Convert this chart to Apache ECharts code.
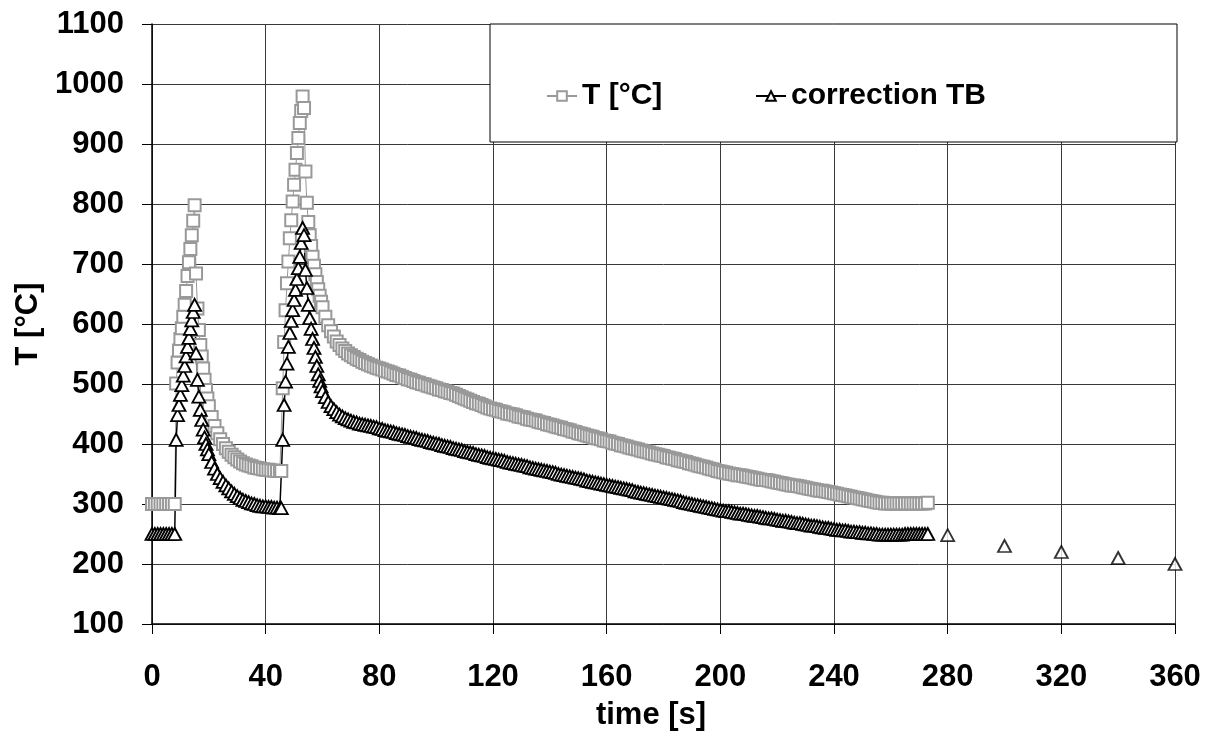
<!DOCTYPE html>
<html style="height: 100%">
<head>
  <meta charset="UTF-8">
  <title>T / correction TB</title>
  <script src="https://cdnjs.cloudflare.com/ajax/libs/echarts/6.0.0/echarts.min.js"></script>
  <style>
    body {
      margin: 0;
      height: 100%;
      background: #fff;
    }
    #main {
      width: 1217px;
      height: 740px;
    }
  </style>
</head>
<body>
  <div id="main"></div>

  <script>
    // time [s] of the measured points
    const time = [
      0, 1, 2, 3, 4, 5, 6, 7, 8,
      8.5, 9, 9.5, 10, 10.5, 11, 11.5, 12, 12.5, 13, 13.5, 14, 14.5, 15,
      15.5, 16, 16.5, 17, 17.5, 18, 18.5, 19, 19.5, 20,
      21, 22, 23, 24, 25, 26, 27, 28, 29, 30,
      31, 32, 33, 34, 35, 36, 37, 38, 39, 40,
      41, 42, 43, 44, 45, 45.5,
      46, 46.5, 47, 47.5, 48, 48.5, 49, 49.5, 50, 50.5, 51, 51.5, 52, 52.5, 53,
      53.5, 54, 54.5, 55, 55.5, 56, 56.5, 57, 57.5, 58, 58.5, 59, 59.5, 60,
      61, 62, 63, 64, 65, 66, 67, 68, 69, 70,
      71, 72, 73, 74, 75, 76, 77, 78, 79, 80,
      81, 82, 83, 84, 85, 86, 87, 88, 89, 90,
      91, 92, 93, 94, 95, 96, 97, 98, 99, 100,
      101, 102, 103, 104, 105, 106, 107, 108, 109, 110,
      111, 112, 113, 114, 115, 116, 117, 118, 119, 120,
      121, 122, 123, 124, 125, 126, 127, 128, 129, 130,
      131, 132, 133, 134, 135, 136, 137, 138, 139, 140,
      141, 142, 143, 144, 145, 146, 147, 148, 149, 150,
      151, 152, 153, 154, 155, 156, 157, 158, 159, 160,
      161, 162, 163, 164, 165, 166, 167, 168, 169, 170,
      171, 172, 173, 174, 175, 176, 177, 178, 179, 180,
      181, 182, 183, 184, 185, 186, 187, 188, 189, 190,
      191, 192, 193, 194, 195, 196, 197, 198, 199, 200,
      201, 202, 203, 204, 205, 206, 207, 208, 209, 210,
      211, 212, 213, 214, 215, 216, 217, 218, 219, 220,
      221, 222, 223, 224, 225, 226, 227, 228, 229, 230,
      231, 232, 233, 234, 235, 236, 237, 238, 239, 240,
      241, 242, 243, 244, 245, 246, 247, 248, 249, 250,
      251, 252, 253, 254, 255, 256, 257, 258, 259, 260,
      261, 262, 263, 264, 265, 266, 267, 268, 269, 270,
      271, 272, 273
    ];

    // T [°C]
    const tempT = [
      300, 300, 300, 300, 300, 300, 300, 300, 300,
      501, 536, 556, 575, 593, 612, 632, 655, 680, 703, 725, 748, 772, 798,
      684, 626, 590, 565, 546, 526, 507, 490, 476, 463,
      445, 430, 418, 408, 400, 393, 387, 382, 378, 374,
      371, 368, 366, 364, 363, 361, 360, 359, 358, 357,
      357, 356, 356, 355, 355, 355,
      493, 570, 623, 668, 704, 743, 773, 804, 832, 857, 885, 910, 935, 955, 979,
      960, 854, 802, 770, 748, 730, 712, 697, 683, 670, 658, 647, 637, 628,
      612, 598, 588, 579, 571, 565, 559, 555, 551, 548,
      545, 542, 540, 537, 535, 533, 531, 529, 527, 526,
      524, 522, 521, 519, 517, 515, 514, 512, 510, 508,
      507, 505, 503, 502, 500, 499, 497, 496, 494, 493,
      491, 490, 488, 487, 485, 484, 482, 480, 478, 476,
      474, 472, 470, 468, 467, 465, 463, 461, 459, 458,
      457, 455, 454, 453, 451, 450, 449, 448, 446, 445,
      444, 442, 441, 440, 439, 437, 436, 435, 433, 432,
      431, 429, 428, 427, 425, 424, 423, 421, 420, 418,
      417, 416, 414, 413, 412, 410, 409, 408, 406, 405,
      404, 402, 401, 400, 398, 397, 396, 394, 393, 392,
      391, 389, 388, 387, 386, 384, 383, 382, 381, 380,
      378, 377, 376, 375, 373, 372, 371, 370, 368, 367,
      366, 364, 363, 362, 361, 359, 358, 357, 355, 354,
      353, 352, 351, 350, 349, 348, 348, 347, 346, 345,
      344, 343, 342, 341, 340, 340, 339, 338, 337, 336,
      335, 334, 333, 332, 331, 331, 330, 329, 328, 327,
      326, 325, 324, 323, 322, 322, 321, 320, 319, 318,
      317, 316, 315, 314, 313, 312, 311, 310, 309, 308,
      307, 306, 305, 304, 303, 302, 302, 301, 301, 301,
      301, 301, 301, 301, 301, 301, 301, 301, 301, 301,
      301, 301, 302
    ];

    // correction TB
    const tempTB = [
      250, 250, 250, 250, 250, 250, 250, 250, 250,
      407, 448, 465, 482, 498, 514, 530, 546, 562, 577, 592, 606, 620, 632,
      551, 507, 479, 457, 440, 424, 411, 400, 391, 383,
      370, 359, 350, 343, 337, 331, 326, 321, 317, 313,
      310, 307, 305, 303, 301, 300, 298, 297, 296, 296,
      295, 295, 294, 294, 293, 293,
      407, 465, 504, 534, 562, 585, 605, 623, 640, 657, 675, 693, 712, 735, 760,
      748, 690, 660, 632, 610, 592, 575, 560, 545, 530, 516, 505, 496, 488,
      478, 470, 463, 458, 453, 449, 446, 443, 441, 439,
      437, 436, 434, 433, 432, 431, 430, 429, 428, 426,
      425, 423, 422, 421, 420, 418, 417, 416, 415, 413,
      412, 411, 410, 408, 407, 406, 405, 403, 402, 401,
      400, 398, 397, 396, 395, 393, 392, 391, 390, 388,
      387, 386, 385, 383, 382, 381, 380, 378, 377, 376,
      375, 374, 373, 372, 370, 369, 368, 367, 366, 365,
      364, 363, 361, 360, 359, 358, 357, 356, 355, 354,
      353, 352, 350, 349, 348, 347, 346, 345, 344, 343,
      342, 341, 339, 338, 337, 336, 335, 334, 333, 332,
      331, 330, 329, 328, 327, 326, 325, 324, 323, 321,
      320, 319, 318, 317, 316, 315, 314, 313, 312, 311,
      310, 309, 308, 307, 306, 305, 303, 302, 301, 300,
      299, 298, 297, 296, 295, 294, 293, 292, 291, 290,
      289, 288, 288, 287, 286, 285, 284, 284, 283, 282,
      281, 280, 280, 279, 278, 277, 276, 276, 275, 274,
      273, 272, 272, 271, 270, 269, 268, 268, 267, 266,
      265, 264, 264, 263, 262, 261, 260, 260, 259, 258,
      257, 257, 256, 256, 255, 254, 254, 253, 253, 252,
      252, 251, 251, 250, 250, 249, 249, 249, 249, 249,
      249, 249, 249, 249, 250, 250, 250, 250, 250, 250,
      250, 250, 250
    ];

    // later single readings of correction TB (not joined by a line)
    const tailTime = [280, 300, 320, 340, 360];
    const tailTB = [248, 230, 220, 210, 200];

    const fontMain = "'Liberation Sans', Arial, sans-serif";

    const myChart = echarts.init(document.getElementById('main'));

    const option = {
      animation: false,
      backgroundColor: '#fff',
      grid: {
        left: 152,
        right: 42,
        top: 24,
        bottom: 116
      },
      graphic: [{
        type: 'rect',
        z: 5,
        shape: { x: 490, y: 24, width: 687, height: 118 },
        style: { fill: '#fff', stroke: '#000', lineWidth: 1 }
      }],
      legend: [{
        data: ['T [°C]'],
        left: 541,
        top: 76,
        z: 20,
        itemWidth: 30,
        itemHeight: 12,
        itemGap: 0,
        textStyle: { fontFamily: fontMain, fontWeight: 'bold', fontSize: 30, color: '#000' }
      }, {
        data: ['correction TB'],
        left: 750,
        top: 76,
        z: 20,
        itemWidth: 30,
        itemHeight: 12,
        itemGap: 0,
        textStyle: { fontFamily: fontMain, fontWeight: 'bold', fontSize: 30, color: '#000' }
      }],
      xAxis: {
        type: 'value',
        min: 0,
        max: 360,
        interval: 40,
        name: 'time [s]',
        nameLocation: 'middle',
        nameGap: 76,
        nameTextStyle: { fontFamily: fontMain, fontWeight: 'bold', fontSize: 31, color: '#000', padding: [0, 25, 0, 0] },
        axisLine: { lineStyle: { color: '#000', width: 1.5 } },
        axisTick: { show: true, inside: false, length: 10, lineStyle: { color: '#000' } },
        axisLabel: { margin: 38, fontFamily: fontMain, fontWeight: 'bold', fontSize: 31, color: '#000' },
        splitLine: { show: true, lineStyle: { color: '#3a3a3a', width: 1 } }
      },
      yAxis: {
        type: 'value',
        min: 100,
        max: 1100,
        interval: 100,
        name: 'T [°C]',
        nameLocation: 'middle',
        nameGap: 105,
        nameTextStyle: { fontFamily: fontMain, fontWeight: 'bold', fontSize: 31, color: '#000' },
        axisLine: { show: true, lineStyle: { color: '#000', width: 1.5 } },
        axisTick: { show: true, inside: false, length: 10, lineStyle: { color: '#000' } },
        axisLabel: {
          margin: 28,
          fontFamily: fontMain,
          fontWeight: 'bold',
          fontSize: 31,
          color: '#000',
          formatter: value => String(value)
        },
        splitLine: { show: true, lineStyle: { color: '#3a3a3a', width: 1 } }
      },
      series: [{
        name: 'T [°C]',
        type: 'line',
        data: time.map((t, i) => [t, tempT[i]]),
        symbol: 'rect',
        symbolSize: 12,
        showAllSymbol: true,
        lineStyle: { color: '#999', width: 1 },
        itemStyle: { color: '#fff', borderColor: '#999', borderWidth: 2 }
      }, {
        name: 'correction TB',
        type: 'line',
        data: time.map((t, i) => [t, tempTB[i]]),
        symbol: 'triangle',
        symbolSize: [13, 12],
        showAllSymbol: true,
        lineStyle: { color: '#000', width: 1.5 },
        itemStyle: { color: '#fff', borderColor: '#000', borderWidth: 1.8 }
      }, {
        name: 'correction TB',
        type: 'scatter',
        data: tailTime.map((t, i) => [t, tailTB[i]]),
        symbol: 'triangle',
        symbolSize: [13, 12],
        itemStyle: { color: '#fff', borderColor: '#000', borderWidth: 1.8 }
      }]
    };

    myChart.setOption(option);

    window.addEventListener('resize', () => {
      myChart.resize();
    });
  </script>
</body>
</html>
